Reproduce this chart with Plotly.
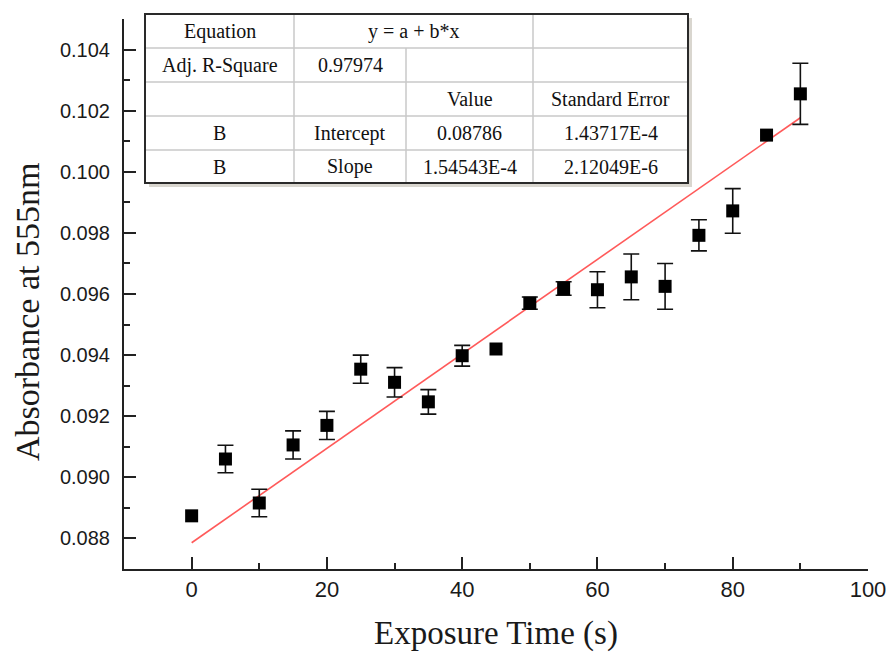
import numpy as np
import plotly.graph_objects as go

# Measured absorbance at 555 nm versus exposure time
exposure_s = [0, 5, 10, 15, 20, 25, 30, 35, 40, 45, 50, 55, 60, 65, 70, 75, 80, 85, 90]
absorbance = [0.08874, 0.09060, 0.08916, 0.09106, 0.09170, 0.09354, 0.09311, 0.09247,
              0.09398, 0.09420, 0.09570, 0.09618, 0.09614, 0.09656, 0.09625, 0.09792,
              0.09872, 0.10120, 0.10255]
# None = no error bar drawn for that point
abs_err = [None, 0.00045, 0.00045, 0.00046, 0.00046, 0.00046, 0.00048, 0.00040,
           0.00034, None, 0.00020, 0.00022, 0.00059, 0.00075, 0.00075, 0.00051,
           0.00073, None, 0.00100]

# Linear fit results (y = a + b*x)
fit_intercept = 0.08786
fit_slope = 1.54543e-4

# Fit summary table, row by row (None = cell merged with its left neighbour)
table_rows = [
    ["Equation", "y = a + b*x", None, ""],
    ["Adj. R-Square", "0.97974", "", ""],
    ["", "", "Value", "Standard Error"],
    ["B", "Intercept", "0.08786", "1.43717E-4"],
    ["B", "Slope", "1.54543E-4", "2.12049E-6"],
]

x_ticks = [0, 20, 40, 60, 80, 100]
y_ticks = [0.088, 0.090, 0.092, 0.094, 0.096, 0.098, 0.100, 0.102, 0.104]

W, H = 891, 652
ML, MR, MT, MB = 124, W - 868, 19, H - 569
PW, PH = W - ML - MR, H - MT - MB


def px(xp):
    return (xp - ML) / PW


def py(yp):
    return (H - MB - yp) / PH


fit_x = np.array([exposure_s[0], exposure_s[-1]], dtype=float)
fit_y = fit_intercept + fit_slope * fit_x

# points that carry an error bar
eb_idx = [i for i, e in enumerate(abs_err) if e is not None]

fig = go.Figure()
fig.add_trace(go.Scatter(
    x=fit_x, y=fit_y, mode="lines",
    line=dict(color="#ff5a5a", width=1.6), hoverinfo="skip", showlegend=False,
))
fig.add_trace(go.Scatter(
    x=[exposure_s[i] for i in eb_idx], y=[absorbance[i] for i in eb_idx], mode="markers",
    marker=dict(size=1, color="rgba(0,0,0,0)"),
    error_y=dict(type="data", array=[abs_err[i] for i in eb_idx], visible=True,
                 color="#111111", thickness=1.6, width=8),
    hoverinfo="skip", showlegend=False,
))
fig.add_trace(go.Scatter(
    x=exposure_s, y=absorbance, mode="markers",
    marker=dict(symbol="square", size=13, color="black", line=dict(width=0)),
    showlegend=False,
))

# Table geometry (pixels)
col_edges = [145, 294, 406, 533, 688]
row_edges = [14, 48, 82, 116, 150, 183]

shapes = []
# drop shadow
shapes.append(dict(type="rect", xref="paper", yref="paper",
                   x0=px(col_edges[0] + 4), x1=px(col_edges[-1] + 4),
                   y0=py(row_edges[-1] + 4), y1=py(row_edges[0] + 4),
                   fillcolor="#d9d6cf", line=dict(width=0), layer="above"))
shapes.append(dict(type="rect", xref="paper", yref="paper",
                   x0=px(col_edges[0]), x1=px(col_edges[-1]),
                   y0=py(row_edges[-1]), y1=py(row_edges[0]),
                   fillcolor="white", line=dict(width=0), layer="above"))
# inner horizontal grid lines
for ye in row_edges[1:-1]:
    shapes.append(dict(type="line", xref="paper", yref="paper",
                       x0=px(col_edges[0]), x1=px(col_edges[-1]), y0=py(ye), y1=py(ye),
                       line=dict(color="#c8c8c8", width=1.5), layer="above"))
# inner vertical grid lines, skipping merged cells
for ci, xe in enumerate(col_edges[1:-1], start=1):
    for ri, row in enumerate(table_rows):
        if row[ci] is None:
            continue
        shapes.append(dict(type="line", xref="paper", yref="paper",
                           x0=px(xe), x1=px(xe), y0=py(row_edges[ri]), y1=py(row_edges[ri + 1]),
                           line=dict(color="#c8c8c8", width=1.5), layer="above"))
# outer border
shapes.append(dict(type="rect", xref="paper", yref="paper",
                   x0=px(col_edges[0]), x1=px(col_edges[-1]),
                   y0=py(row_edges[-1]), y1=py(row_edges[0]),
                   fillcolor="rgba(0,0,0,0)", line=dict(color="#2a2a2a", width=2), layer="above"))

annotations = []
for ri, row in enumerate(table_rows):
    for ci, txt in enumerate(row):
        if txt is None or txt == "":
            continue
        x_right = ci + 1
        while x_right < len(row) and row[x_right] is None:
            x_right += 1
        cx = (col_edges[ci] + col_edges[x_right]) / 2
        cy = (row_edges[ri] + row_edges[ri + 1]) / 2
        annotations.append(dict(xref="paper", yref="paper", x=px(cx), y=py(cy),
                                text=txt, showarrow=False, xanchor="center", yanchor="middle",
                                font=dict(family="Liberation Serif", size=20, color="#111111")))

# vertical axis title, placed slightly below the plot's vertical centre
annotations.append(dict(xref="paper", yref="paper", x=px(27), y=py(312),
                        text="Absorbance at 555nm", textangle=-90, showarrow=False,
                        xanchor="center", yanchor="middle",
                        font=dict(family="Liberation Serif", size=34, color="#1a1a1a")))

fig.update_layout(
    width=W, height=H,
    margin=dict(l=ML, r=MR, t=MT, b=MB),
    paper_bgcolor="white", plot_bgcolor="white",
    shapes=shapes, annotations=annotations,
    xaxis=dict(
        range=[-10, 100], tickvals=x_ticks, ticktext=[str(v) for v in x_ticks],
        ticks="inside", ticklen=12, tickwidth=1.6, tickcolor="#222222",
        minor=dict(dtick=10, tick0=0, ticks="inside", ticklen=6, tickwidth=1.6, tickcolor="#222222"),
        showline=True, linecolor="#222222", linewidth=2, showgrid=False, zeroline=False,
        automargin=False,
        tickfont=dict(family="Liberation Sans", size=22, color="#1a1a1a"),
        title=dict(text="Exposure Time (s)", standoff=22,
                   font=dict(family="Liberation Serif", size=33, color="#1a1a1a")),
    ),
    yaxis=dict(
        range=[0.087, 0.105], tickvals=y_ticks, ticktext=[f"{v:.3f}" for v in y_ticks],
        ticks="inside", ticklen=12, tickwidth=1.6, tickcolor="#222222",
        minor=dict(dtick=0.001, tick0=0.087, ticks="inside", ticklen=6, tickwidth=1.6, tickcolor="#222222"),
        showline=True, linecolor="#222222", linewidth=2, showgrid=False, zeroline=False,
        automargin=False,
        tickfont=dict(family="Liberation Sans", size=20, color="#1a1a1a"),
        ticklabelstandoff=8,
    ),
)

fig.write_html("out.html")
